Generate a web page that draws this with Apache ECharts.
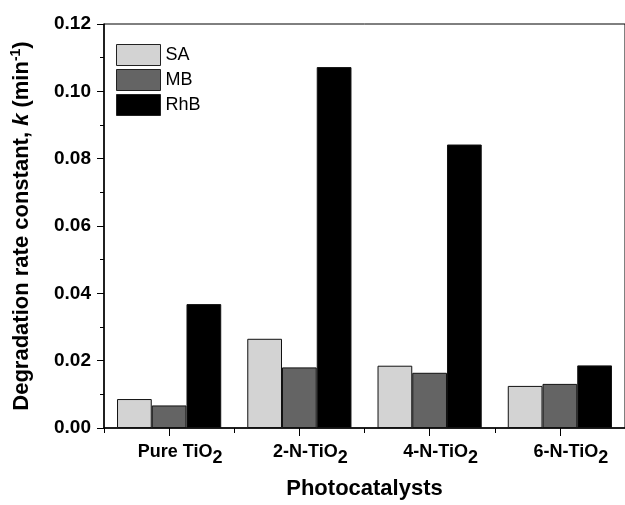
<!DOCTYPE html>
<html>
<head>
<meta charset="utf-8">
<script src="https://cdn.jsdelivr.net/npm/echarts@6/dist/echarts.min.js"></script>
<style>
  html, body { margin: 0; padding: 0; background: #fff; }
  #chart { width: 625px; height: 505px; }
</style>
</head>
<body>
<div id="chart"></div>
<script>
// Rate constants k (min^-1) for each photocatalyst and dye
const catalysts = ['Pure TiO', '2-N-TiO', '4-N-TiO', '6-N-TiO'];
const seriesNames = ['SA', 'MB', 'RhB'];
const saValues  = [0.0086, 0.0265, 0.0185, 0.0125];
const mbValues  = [0.0067, 0.0180, 0.0164, 0.0131];
const rhbValues = [0.0368, 0.1072, 0.0842, 0.0186];
const yTicks = [0, 0.02, 0.04, 0.06, 0.08, 0.10, 0.12];

const FONT = "'Liberation Sans', Arial, sans-serif";
const fills = ['#d3d3d3', '#646464', '#000000'];
const values = [saValues, mbValues, rhbValues];

const chart = echarts.init(document.getElementById('chart'), null, { renderer: 'canvas' });

const option = {
  backgroundColor: '#ffffff',
  animation: false,
  grid: {
    left: 104, top: 24, width: 525, height: 411,
    show: true, borderColor: '#000', borderWidth: 1, backgroundColor: 'transparent'
  },
  legend: {
    data: seriesNames,
    orient: 'vertical',
    left: 116, top: 44,
    padding: 0,
    itemWidth: 44, itemHeight: 21, itemGap: 3,
    icon: 'rect',
    textStyle: { fontFamily: FONT, fontSize: 18, color: '#000' },
    itemStyle: { borderColor: '#222', borderWidth: 1 }
  },
  xAxis: [
    {
      type: 'category',
      data: catalysts,
      name: 'Photocatalysts',
      nameLocation: 'middle',
      nameGap: 50,
      nameTextStyle: { fontFamily: FONT, fontSize: 22, fontWeight: 'bold', color: '#000' },
      axisLine: { show: true, lineStyle: { color: '#000', width: 1.5 } },
      axisTick: { show: true, alignWithLabel: true, length: 8, lineStyle: { color: '#000', width: 1 } },
      axisLabel: {
        margin: 15,
        interval: 0,
        formatter: (v) => '{m|' + v + '}{s|2}',
        rich: {
          m: { fontFamily: FONT, fontSize: 18, fontWeight: 'bold', color: '#000', lineHeight: 18, verticalAlign: 'top' },
          s: { fontFamily: FONT, fontSize: 18, fontWeight: 'bold', color: '#000', lineHeight: 18, verticalAlign: 'top', padding: [6, 0, 0, 0] }
        },
        padding: [0, 0, 0, 22]
      },
      splitLine: { show: false }
    },
    {
      // boundary ticks between the catalyst groups
      type: 'category',
      data: catalysts,
      position: 'bottom',
      axisLine: { show: false },
      axisTick: { show: true, alignWithLabel: false, length: 5, lineStyle: { color: '#000', width: 1 } },
      axisLabel: { show: false },
      splitLine: { show: false }
    }
  ],
  yAxis: {
    type: 'value',
    min: yTicks[0],
    max: yTicks[yTicks.length - 1],
    interval: 0.02,
    name: '{t|Degradation rate constant, }{i|k}{t| (min}{p|-1}{t|)}',
    nameLocation: 'middle',
    nameGap: 69,
    nameTextStyle: {
      rich: {
        t: { fontFamily: FONT, fontSize: 22, fontWeight: 'bold', color: '#000', lineHeight: 26 },
        i: { fontFamily: FONT, fontSize: 22, fontWeight: 'bold', fontStyle: 'italic', color: '#000', lineHeight: 26 },
        p: { fontFamily: FONT, fontSize: 14, fontWeight: 'bold', color: '#000', lineHeight: 26, verticalAlign: 'top', padding: [0, 0, 8, 0] }
      }
    },
    axisLine: { show: true, lineStyle: { color: '#000', width: 1.5 } },
    axisTick: { show: true, inside: false, length: 7, lineStyle: { color: '#000', width: 1 } },
    minorTick: { show: true, splitNumber: 2, length: 4, lineStyle: { color: '#000', width: 1 } },
    axisLabel: {
      margin: 13,
      fontFamily: FONT, fontSize: 19, fontWeight: 'bold', color: '#000',
      formatter: (v) => v.toFixed(2)
    },
    splitLine: { show: false },
    minorSplitLine: { show: false }
  },
  series: seriesNames.map((name, i) => ({
    name: name,
    type: 'bar',
    xAxisIndex: 0,
    data: values[i],
    barWidth: '26.67%',
    barGap: '0%',
    itemStyle: { color: fills[i], borderColor: '#111', borderWidth: 1 }
  }))
};

chart.setOption(option);
</script>
</body>
</html>
